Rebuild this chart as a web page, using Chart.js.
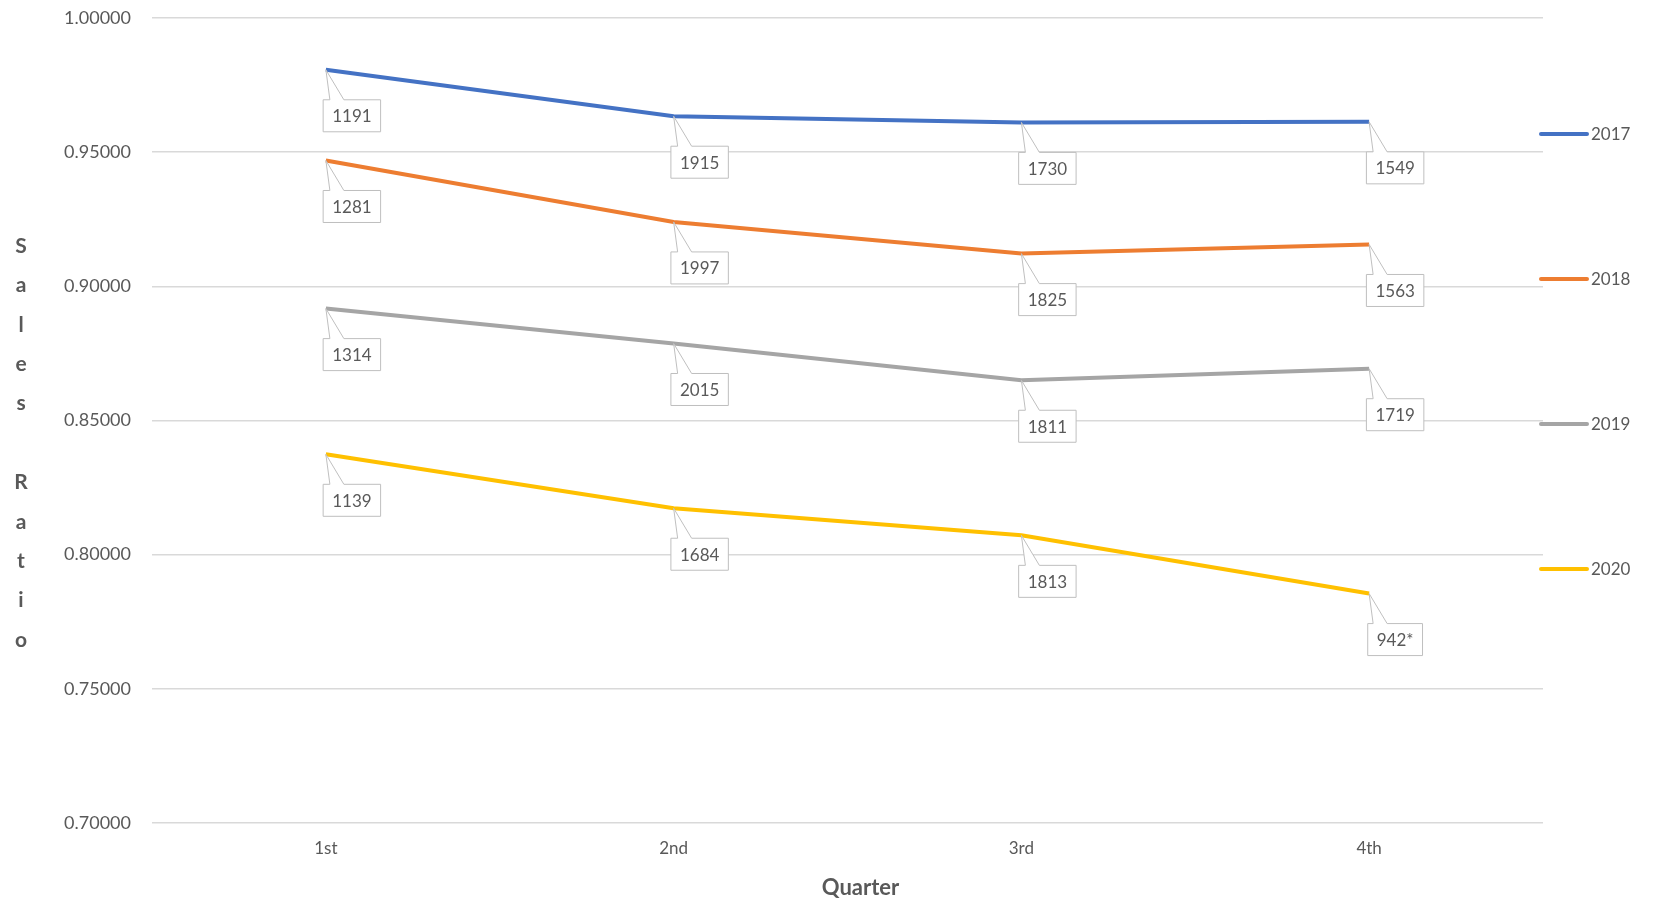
<!DOCTYPE html>
<html>
<head>
<meta charset="utf-8">
<script src="https://cdn.jsdelivr.net/npm/chart.js@4.4.1/dist/chart.umd.min.js"></script>
<style>
  html, body { margin: 0; padding: 0; background: #ffffff; }
  #wrap { width: 1653px; height: 899px; }
</style>
</head>
<body>
<div id="wrap"><canvas id="c" width="1653" height="899"></canvas></div>
<script>
// ---- data ----
const quarters = ['1st', '2nd', '3rd', '4th'];
const seriesNames = ['2017', '2018', '2019', '2020'];
const ratio2017 = [0.9807, 0.9634, 0.9611, 0.9613];
const ratio2018 = [0.9469, 0.9240, 0.9122, 0.9156];
const ratio2019 = [0.8917, 0.8787, 0.8650, 0.8693];
const ratio2020 = [0.8374, 0.8173, 0.8072, 0.7855];
const count2017 = ['1191', '1915', '1730', '1549'];
const count2018 = ['1281', '1997', '1825', '1563'];
const count2019 = ['1314', '2015', '1811', '1719'];
const count2020 = ['1139', '1684', '1813', '942*'];
const yTicks = [0.70, 0.75, 0.80, 0.85, 0.90, 0.95, 1.00];

const colors = ['#4472C4', '#ED7D31', '#A5A5A5', '#FFC000'];
const textColor = '#595959';
const FONT = 'Lato, "Open Sans", sans-serif';

const values = [ratio2017, ratio2018, ratio2019, ratio2020];
const counts = [count2017, count2018, count2019, count2020];

const datasets = seriesNames.map((name, i) => ({
  label: name,
  data: values[i],
  counts: counts[i],
  borderColor: colors[i],
  backgroundColor: colors[i],
  borderWidth: 4,
  pointRadius: 0,
  pointHoverRadius: 0,
  tension: 0,
  fill: false
}));

// callout labels
const calloutPlugin = {
  id: 'callouts',
  afterDatasetsDraw(chart) {
    const ctx = chart.ctx;
    ctx.save();
    ctx.font = '17px ' + FONT;
    chart.data.datasets.forEach((ds, di) => {
      const meta = chart.getDatasetMeta(di);
      meta.data.forEach((pt, j) => {
        const txt = ds.counts[j];
        const w = ctx.measureText(txt).width + 18;
        const h = 32;
        const cx = pt.x + 26, cy = pt.y + 46;
        const L = cx - w / 2, T = cy - h / 2, R = cx + w / 2, B = cy + h / 2;
        const a1 = Math.max(L + 4, pt.x + 4), a2 = a1 + 14;
        ctx.beginPath();
        ctx.moveTo(L, T);
        ctx.lineTo(a1, T);
        ctx.lineTo(pt.x, pt.y);
        ctx.lineTo(a2, T);
        ctx.lineTo(R, T);
        ctx.lineTo(R, B);
        ctx.lineTo(L, B);
        ctx.closePath();
        ctx.fillStyle = '#ffffff';
        ctx.fill();
        ctx.lineWidth = 1;
        ctx.strokeStyle = '#bfbfbf';
        ctx.stroke();
        ctx.fillStyle = textColor;
        ctx.textAlign = 'center';
        ctx.textBaseline = 'middle';
        ctx.fillText(txt, cx, cy + 1);
      });
    });
    ctx.restore();
  }
};

// legend at right + stacked y-axis title + x-axis title
const sidePlugin = {
  id: 'side',
  afterDraw(chart) {
    const ctx = chart.ctx;
    const area = chart.chartArea;
    ctx.save();
    // legend
    ctx.font = '17px ' + FONT;
    ctx.textBaseline = 'middle';
    ctx.textAlign = 'left';
    chart.data.datasets.forEach((ds, i) => {
      const y = area.top + 116 + i * 145;
      ctx.strokeStyle = ds.borderColor;
      ctx.lineWidth = 4;
      ctx.lineCap = 'round';
      ctx.beginPath();
      ctx.moveTo(area.right - 2, y);
      ctx.lineTo(area.right + 44, y);
      ctx.stroke();
      ctx.fillStyle = textColor;
      ctx.fillText(ds.label, area.right + 48, y + 1);
    });
    // vertical stacked axis title
    const title = 'Sales Ratio';
    ctx.font = 'bold 21px ' + FONT;
    ctx.textAlign = 'center';
    ctx.fillStyle = textColor;
    for (let k = 0; k < title.length; k++) {
      ctx.fillText(title[k], 21, area.top + 228 + k * 39.4);
    }
    // x-axis title
    ctx.font = 'bold 22px ' + FONT;
    ctx.fillText('Quarter', (area.left + area.right) / 2 + 13, area.bottom + 65);
    ctx.restore();
  }
};

new Chart(document.getElementById('c'), {
  type: 'line',
  data: { labels: quarters, datasets: datasets },
  plugins: [calloutPlugin, sidePlugin],
  options: {
    responsive: false,
    animation: false,
    devicePixelRatio: 1,
    layout: { padding: { left: 42, right: 110, top: 18, bottom: 0 } },
    plugins: {
      legend: { display: false },
      tooltip: { enabled: false },
      title: { display: false }
    },
    scales: {
      x: {
        offset: true,
        afterFit: (s) => { s.height = 76; },
        grid: { display: false, drawTicks: false },
        border: { display: false },
        ticks: { color: textColor, font: { family: FONT, size: 17 }, padding: 15 },
        title: { display: false }
      },
      y: {
        min: 0.70, max: 1.00,
        afterBuildTicks: (s) => { s.ticks = yTicks.map(v => ({ value: v })); },
        afterFit: (s) => { s.width = 110; s.paddingTop = 0; s.paddingBottom = 0; },
        grid: { color: '#d9d9d9', lineWidth: 1.5, drawTicks: false },
        border: { display: false },
        ticks: {
          color: textColor, font: { family: FONT, size: 18 }, padding: 21,
          callback: (v) => Number(v).toFixed(5)
        }
      }
    }
  }
});
</script>
</body>
</html>
